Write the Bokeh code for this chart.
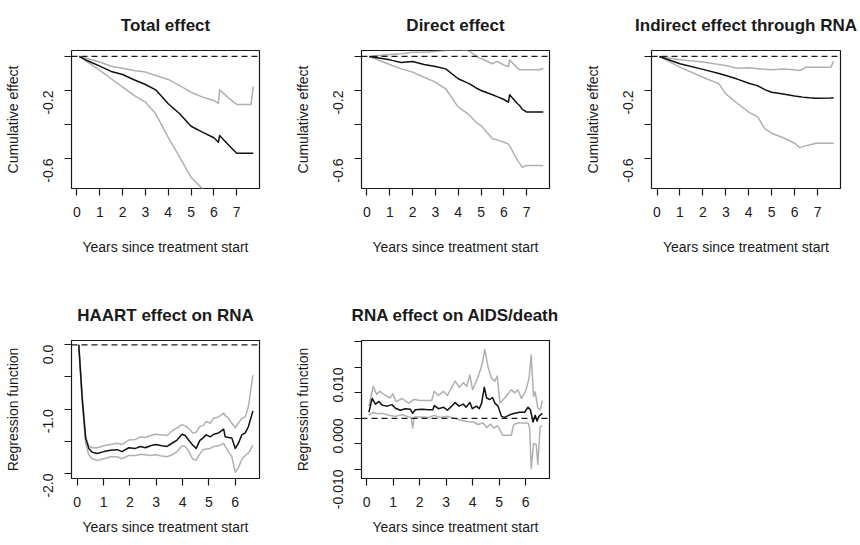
import math
from bokeh.plotting import figure
from bokeh.layouts import column, row
from bokeh.models import Range1d, FixedTicker, Span
from bokeh.embed import file_html
from bokeh.resources import INLINE

# ---------------- data ----------------
# Panel 1: Total effect
tot_x = [0.1, 0.44, 1.0, 1.5, 2.0, 2.5, 3.0, 3.45, 4.0, 4.5, 5.0, 5.5, 6.0, 6.2, 6.25, 6.6, 7.0, 7.63, 7.73]
tot_est = [0, -0.024, -0.057, -0.088, -0.106, -0.137, -0.165, -0.196, -0.278, -0.337, -0.41, -0.445, -0.478, -0.504, -0.465, -0.514, -0.569, -0.569, -0.569]
tot_up = [0, -0.012, -0.033, -0.058, -0.069, -0.082, -0.092, -0.112, -0.135, -0.171, -0.21, -0.239, -0.259, -0.275, -0.196, -0.239, -0.282, -0.282, -0.176]
tot_lo = [0, -0.03, -0.082, -0.131, -0.18, -0.229, -0.269, -0.337, -0.475, -0.592, -0.71, -0.778, -0.85, -0.88, -0.86, -0.91, -0.97, -0.97, -0.97]

# Panel 2: Direct effect
dir_x = [0.1, 1.0, 1.5, 2.0, 2.5, 3.0, 3.45, 4.0, 4.4, 4.5, 4.85, 5.0, 5.5, 5.7, 6.0, 6.2, 6.25, 6.6, 6.7, 6.8, 7.0, 7.57, 7.73]
dir_est = [0, -0.02, -0.035, -0.03, -0.047, -0.059, -0.073, -0.131, -0.155, -0.161, -0.19, -0.2, -0.225, -0.236, -0.253, -0.269, -0.225, -0.278, -0.29, -0.31, -0.327, -0.327, -0.327]
dir_up = [0, 0.012, 0.016, 0.025, 0.025, 0.029, 0.035, 0.039, 0.035, 0.03, -0.004, -0.012, -0.043, -0.029, -0.05, -0.059, -0.02, -0.07, -0.078, -0.078, -0.078, -0.078, -0.069]
dir_lo = [0, -0.047, -0.073, -0.092, -0.122, -0.151, -0.19, -0.298, -0.335, -0.347, -0.395, -0.406, -0.484, -0.49, -0.504, -0.515, -0.524, -0.612, -0.63, -0.651, -0.641, -0.641, -0.641]

# Panel 3: Indirect effect through RNA
ind_x = [0.1, 1.0, 2.0, 2.7, 3.0, 3.5, 4.0, 4.4, 4.7, 5.0, 5.5, 6.0, 6.23, 6.35, 6.5, 6.64, 6.93, 7.58, 7.7]
ind_est = [0, -0.043, -0.076, -0.1, -0.112, -0.133, -0.157, -0.173, -0.195, -0.21, -0.22, -0.233, -0.237, -0.239, -0.241, -0.243, -0.245, -0.244, -0.243]
ind_up = [0, -0.02, -0.033, -0.047, -0.053, -0.069, -0.067, -0.072, -0.075, -0.078, -0.073, -0.078, -0.082, -0.075, -0.063, -0.063, -0.063, -0.063, -0.029]
ind_lo = [0, -0.063, -0.122, -0.161, -0.22, -0.275, -0.327, -0.357, -0.425, -0.451, -0.478, -0.51, -0.537, -0.53, -0.524, -0.52, -0.51, -0.51, -0.51]

# Panel 4: HAART effect on RNA
haart_x = [0.06, 0.19, 0.32, 0.44, 0.57, 0.76, 1.01, 1.26, 1.52, 1.7, 1.96, 2.21, 2.4, 2.59, 2.78, 2.97,
           3.22, 3.41, 3.6, 3.79, 3.98, 4.1, 4.23, 4.39, 4.52, 4.65, 4.77, 4.9, 5.05, 5.18, 5.37, 5.56,
           5.62, 5.74, 5.87, 6.0, 6.12, 6.25, 6.38, 6.5, 6.67]
haart_est = [0, -0.83, -1.45, -1.61, -1.67, -1.69, -1.66, -1.64, -1.63, -1.66, -1.60, -1.61, -1.58, -1.60, -1.57, -1.55,
             -1.57, -1.58, -1.53, -1.48, -1.39, -1.41, -1.48, -1.56, -1.61, -1.49, -1.45, -1.40, -1.43, -1.39, -1.37, -1.31,
             -1.43, -1.44, -1.45, -1.61, -1.53, -1.40, -1.37, -1.27, -1.03]
haart_up = [0, -0.78, -1.43, -1.57, -1.60, -1.60, -1.57, -1.55, -1.53, -1.55, -1.48, -1.47, -1.43, -1.44, -1.41, -1.39,
            -1.40, -1.41, -1.34, -1.29, -1.24, -1.26, -1.30, -1.37, -1.36, -1.27, -1.26, -1.19, -1.22, -1.14, -1.12, -1.06,
            -1.10, -1.14, -1.22, -1.29, -1.22, -1.14, -1.12, -0.96, -0.47]
haart_lo = [0, -0.88, -1.53, -1.71, -1.77, -1.80, -1.77, -1.74, -1.74, -1.77, -1.72, -1.72, -1.70, -1.71, -1.72, -1.71,
            -1.73, -1.74, -1.71, -1.66, -1.57, -1.58, -1.65, -1.78, -1.79, -1.70, -1.63, -1.62, -1.61, -1.58, -1.57, -1.53,
            -1.58, -1.66, -1.74, -1.98, -1.91, -1.78, -1.72, -1.68, -1.56]

# Panel 5: RNA effect on AIDS/death
rna_x_est = [0.09, 0.21, 0.34, 0.46, 0.59, 0.78, 0.96, 1.09, 1.28, 1.46, 1.65, 1.74, 1.84, 2.09, 2.34, 2.5, 2.56,
             2.71, 2.9, 3.05, 3.21, 3.34, 3.49, 3.65, 3.75, 3.9, 3.99, 4.15, 4.25, 4.34, 4.44, 4.53, 4.65, 4.75,
             4.84, 4.96, 5.09, 5.21, 5.4, 5.59, 5.78, 5.96, 6.09, 6.18, 6.28, 6.36, 6.43, 6.5, 6.63]
rna_est = [0.0012, 0.0039, 0.0028, 0.0033, 0.0026, 0.0024, 0.0027, 0.0020, 0.0016, 0.0019, 0.0018, 0.0010, 0.0017,
           0.0018, 0.0017, 0.0017, 0.0025, 0.0019, 0.0022, 0.0016, 0.0024, 0.0031, 0.0024, 0.0028, 0.0022, 0.0031,
           0.0019, 0.0024, 0.0019, 0.0030, 0.0061, 0.0040, 0.0037, 0.0041, 0.0030, 0.0024, 0.0004, 0.0002, 0.0007,
           0.0010, 0.0012, 0.0012, 0.0022, 0.0017, -0.0007, 0.0006, -0.0005, 0.0004, 0.0010]
rna_x_up = [0.09, 0.25, 0.38, 0.5, 0.71, 0.88, 0.99, 1.11, 1.34, 1.59, 1.78, 2.03, 2.28, 2.46, 2.55, 2.71, 2.9,
            3.05, 3.21, 3.34, 3.5, 3.65, 3.78, 3.9, 4.0, 4.15, 4.28, 4.36, 4.46, 4.59, 4.71, 4.84, 4.93, 5.03,
            5.21, 5.46, 5.59, 5.71, 5.84, 6.0, 6.13, 6.21, 6.3, 6.36, 6.46, 6.55, 6.63]
rna_up = [0.0024, 0.0063, 0.0047, 0.0053, 0.0045, 0.0040, 0.0048, 0.0033, 0.0039, 0.0030, 0.0037, 0.0035, 0.0035,
          0.0035, 0.0053, 0.0045, 0.0053, 0.0045, 0.0060, 0.0073, 0.0061, 0.0070, 0.0063, 0.0085, 0.0056, 0.0074,
          0.0093, 0.0106, 0.0135, 0.0099, 0.0079, 0.0073, 0.0083, 0.0030, 0.0040, 0.0056, 0.0050, 0.0056, 0.0039,
          0.0053, 0.0079, 0.0124, 0.0043, 0.0052, 0.0020, 0.0017, 0.0035]
rna_x_lo = [0.09, 0.25, 0.4, 0.59, 0.84, 1.09, 1.34, 1.59, 1.68, 1.74, 1.8, 2.09, 2.34, 2.55, 2.78, 3.05, 3.28,
            3.53, 3.78, 4.03, 4.21, 4.4, 4.53, 4.68, 4.8, 4.93, 5.03, 5.13, 5.34, 5.46, 5.55, 5.71, 5.96, 6.09,
            6.15, 6.21, 6.3, 6.4, 6.46, 6.55, 6.63]
rna_lo = [0.0006, 0.0012, 0.0009, 0.0010, 0.0006, 0.0004, 0.0007, 0.0003, 0.0002, -0.0019, 0.0003, 0.0003, 0.0002,
          0.0006, 0.0002, 0.0004, 0.0001, -0.0003, -0.0006, -0.0007, -0.0012, -0.0009, -0.0018, -0.0011, -0.0019,
          -0.0014, -0.0022, -0.0033, -0.0033, -0.0033, -0.0012, -0.0009, -0.0009, -0.0009, -0.0019, -0.0098,
          -0.0049, -0.0051, -0.0090, -0.0016, -0.0014]

titles = ["Total effect", "Direct effect", "Indirect effect through RNA",
          "HAART effect on RNA", "RNA effect on AIDS/death"]
xlabel = "Years since treatment start"
ylabel_top = "Cumulative effect"
ylabel_bottom = "Regression function"

top_xticks = [0, 1, 2, 3, 4, 5, 6, 7]
bot_xticks = [0, 1, 2, 3, 4, 5, 6]
cum_yticks = [0, -0.2, -0.4, -0.6]
cum_ylabels = ["", "-0.2", "", "-0.6"]
haart_yticks = [0, -0.5, -1.0, -1.5, -2.0]
haart_ylabels = ["0.0", "", "-1.0", "", "-2.0"]
rna_yticks = [-0.01, -0.005, 0, 0.005, 0.01, 0.015]
rna_ylabels = ["-0.010", "", "0.000", "", "0.010", ""]

# ---------------- styling ----------------
FONT = "Liberation Sans"
TXT = "#1a1a1a"
GREY = "#b0b0b0"
FS = "14px"


def make_panel(title, xr, yr, xticks, yticks, ylabels, ylab, fw, fh,
               bl, br, bt, bb, xlab_standoff):
    p = figure(frame_width=fw, frame_height=fh, x_range=Range1d(*xr), y_range=Range1d(*yr),
               output_backend="svg", toolbar_location=None,
               min_border_left=bl, min_border_right=br, min_border_top=bt, min_border_bottom=bb)
    p.xgrid.visible = False
    p.ygrid.visible = False
    p.background_fill_color = "white"
    p.border_fill_color = "white"
    p.outline_line_color = TXT
    p.outline_line_width = 1.2
    p.outline_line_alpha = 1.0

    p.title.text = title
    p.title.align = "center"
    p.title.vertical_align = "top"
    p.title.standoff = 28
    p.title.text_font = FONT
    p.title.text_font_size = "17px"
    p.title.text_font_style = "bold"
    p.title.text_color = TXT

    xa = p.xaxis[0]
    xa.ticker = FixedTicker(ticks=xticks)
    xa.axis_line_color = None
    xa.major_tick_in = 0
    xa.major_tick_out = 7
    xa.major_tick_line_color = TXT
    xa.major_tick_line_width = 1.2
    xa.minor_tick_line_color = None
    xa.major_label_text_font = FONT
    xa.major_label_text_font_size = FS
    xa.major_label_text_color = TXT
    xa.major_label_standoff = 11
    xa.axis_label = xlabel
    xa.axis_label_text_font = FONT
    xa.axis_label_text_font_size = FS
    xa.axis_label_text_font_style = "normal"
    xa.axis_label_text_color = TXT
    xa.axis_label_standoff = xlab_standoff

    ya = p.yaxis[0]
    ya.ticker = FixedTicker(ticks=yticks)
    ya.major_label_overrides = {t: l for t, l in zip(yticks, ylabels)}
    ya.axis_line_color = None
    ya.major_tick_in = 0
    ya.major_tick_out = 7
    ya.major_tick_line_color = TXT
    ya.major_tick_line_width = 1.2
    ya.minor_tick_line_color = None
    ya.major_label_orientation = math.pi / 2
    ya.major_label_text_font = FONT
    ya.major_label_text_font_size = FS
    ya.major_label_text_color = TXT
    ya.major_label_standoff = 16
    ya.axis_label = ylab
    ya.axis_label_text_font = FONT
    ya.axis_label_text_font_size = FS
    ya.axis_label_text_font_style = "normal"
    ya.axis_label_text_color = TXT
    ya.axis_label_standoff = 15

    p.add_layout(Span(location=0, dimension="width", line_color=TXT,
                      line_width=1.2, line_dash="6 4"))
    return p


def add_lines(p, xs_up, up, xs_lo, lo, xs_est, est):
    p.line(xs_up, up, line_color=GREY, line_width=1.5, line_join="round")
    p.line(xs_lo, lo, line_color=GREY, line_width=1.5, line_join="round")
    p.line(xs_est, est, line_color="#111111", line_width=1.5, line_join="round")


top_xr = (-0.24, 8.0)
cum_yr = (-0.776, 0.035)

p1 = make_panel(titles[0], top_xr, cum_yr, top_xticks, cum_yticks, cum_ylabels, ylabel_top,
                188, 138, 71, 31, 50, 102, 19)
add_lines(p1, tot_x, tot_up, tot_x, tot_lo, tot_x, tot_est)

p2 = make_panel(titles[1], top_xr, cum_yr, top_xticks, cum_yticks, cum_ylabels, ylabel_top,
                188, 138, 71, 31, 50, 102, 19)
add_lines(p2, dir_x, dir_up, dir_x, dir_lo, dir_x, dir_est)

p3 = make_panel(titles[2], top_xr, cum_yr, top_xticks, cum_yticks, cum_ylabels, ylabel_top,
                189, 138, 71, 18, 50, 102, 19)
add_lines(p3, ind_x, ind_up, ind_x, ind_lo, ind_x, ind_est)

p4 = make_panel(titles[3], (-0.216, 6.92), (-2.078, 0.067), bot_xticks, haart_yticks, haart_ylabels,
                ylabel_bottom, 188, 138, 71, 31, 50, 65, 9)
add_lines(p4, haart_x, haart_up, haart_x, haart_lo, haart_x, haart_est)

p5 = make_panel(titles[4], (-0.19, 6.9), (-0.01177, 0.01526), bot_xticks, rna_yticks, rna_ylabels,
                ylabel_bottom, 188, 138, 71, 31, 50, 65, 9)
add_lines(p5, rna_x_up, rna_up, rna_x_lo, rna_lo, rna_x_est, rna_est)

layout = column(row(p1, p2, p3), row(p4, p5))
open("out.html", "w").write(file_html(layout, INLINE))
